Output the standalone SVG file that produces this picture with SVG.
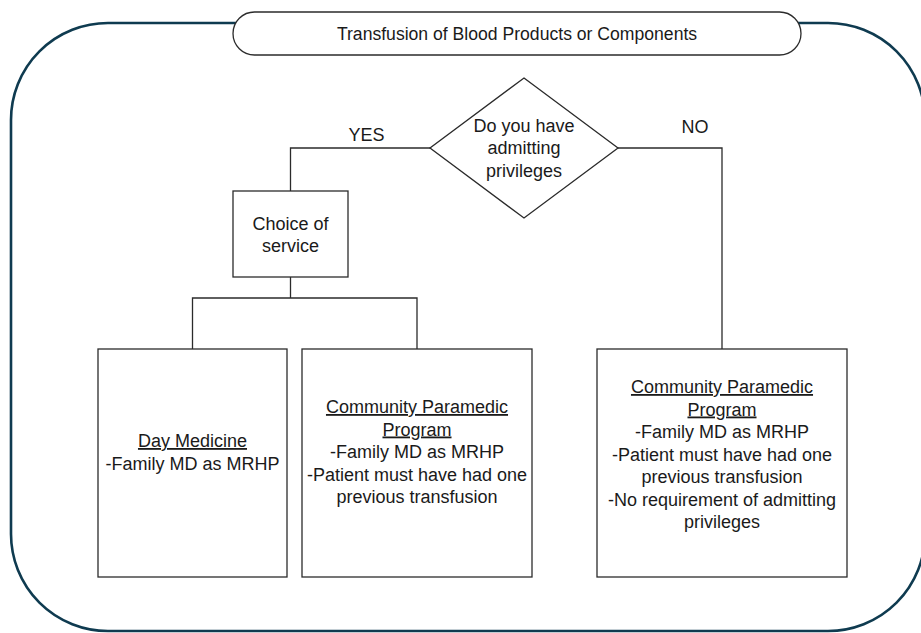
<svg xmlns="http://www.w3.org/2000/svg" width="921" height="633" viewBox="0 0 921 633">
<style>
.t{font-family:"Liberation Sans",Arial,sans-serif;font-size:18px;fill:#1a1a1a;text-anchor:middle}
.h{font-size:17.6px}
.u{text-decoration:underline}
.box{fill:#fff;stroke:#2b2b2b;stroke-width:1.3}
.con{fill:none;stroke:#2b2b2b;stroke-width:1.3}
</style>
<rect width="921" height="633" fill="#fff"/>
<g id="frame">
<rect x="11" y="23" width="914" height="608" rx="97" ry="97" fill="none" stroke="#0f3b50" stroke-width="2.6"/>
</g>
<g id="title">
<rect x="233" y="12" width="568" height="43" rx="21.5" ry="21.5" class="box"/>
<text class="t h" x="517" y="39.5">Transfusion of Blood Products or Components</text>
</g>
<g id="connectors">
<polyline class="con" points="430,148 290.5,148 290.5,191"/>
<polyline class="con" points="618,148 722,148 722,349"/>
<polyline class="con" points="290.5,277 290.5,298"/>
<polyline class="con" points="192.5,349 192.5,298 417,298 417,349"/>
<text class="t" x="366.5" y="141">YES</text>
<text class="t" x="695" y="133">NO</text>
</g>
<g id="decision">
<polygon class="box" points="524,78 618,148 524,218 430,148"/>
<text class="t" x="524" y="131.5">Do you have</text>
<text class="t" x="524" y="154">admitting</text>
<text class="t" x="524" y="176.6">privileges</text>
</g>
<g id="choice">
<rect class="box" x="233" y="191" width="115" height="86"/>
<text class="t" x="290.5" y="229.5">Choice of</text>
<text class="t" x="290.5" y="252">service</text>
</g>
<g id="day-medicine">
<rect class="box" x="98" y="349" width="189" height="228"/>
<text class="t" x="192.5" y="447"><tspan class="u">Day Medicine</tspan></text>
<text class="t" x="192.5" y="469.5">-Family MD as MRHP</text>
</g>
<g id="community-yes">
<rect class="box" x="302" y="349" width="230" height="228"/>
<text class="t" x="417" y="413"><tspan class="u">Community Paramedic</tspan></text>
<text class="t" x="417" y="435.5"><tspan class="u">Program</tspan></text>
<text class="t" x="417" y="458">-Family MD as MRHP</text>
<text class="t" x="417" y="480.5">-Patient must have had one</text>
<text class="t" x="417" y="503">previous transfusion</text>
</g>
<g id="community-no">
<rect class="box" x="597" y="349" width="250" height="228"/>
<text class="t" x="722" y="393"><tspan class="u">Community Paramedic</tspan></text>
<text class="t" x="722" y="415.5"><tspan class="u">Program</tspan></text>
<text class="t" x="722" y="438">-Family MD as MRHP</text>
<text class="t" x="722" y="460.5">-Patient must have had one</text>
<text class="t" x="722" y="483">previous transfusion</text>
<text class="t" x="722" y="505.5">-No requirement of admitting</text>
<text class="t" x="722" y="528">privileges</text>
</g>
</svg>
